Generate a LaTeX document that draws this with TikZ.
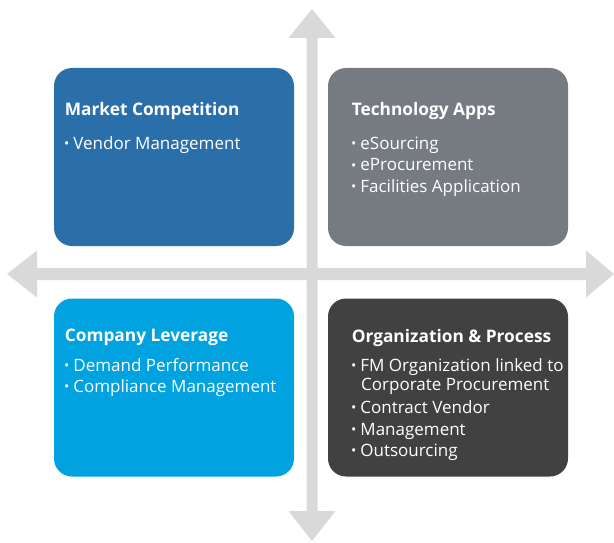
\documentclass[tikz,border=0pt]{standalone}
\usepackage{fontspec}
\setmainfont{Open Sans}
\definecolor{marketblue}{HTML}{2A6FAA}
\definecolor{techgray}{HTML}{767B81}
\definecolor{leverageblue}{HTML}{00A2DF}
\definecolor{orgdark}{HTML}{414141}
\definecolor{axisgray}{HTML}{D9D9D9}
\newcommand\dotmark{\makebox[8.6pt][l]{\hspace*{-0.8pt}\raisebox{0.6pt}{\fontsize{14}{14}\selectfont •}}}
\tikzset{
  quad/.style={rounded corners=18pt, minimum width=240pt, minimum height=178pt, inner sep=0pt},
  quadtitle/.style={anchor=base west, inner sep=0pt, text=white, font=\fontsize{17.3}{20}\selectfont\bfseries},
  quaditem/.style={anchor=base west, inner sep=0pt, text=white, font=\fontsize{17}{20}\selectfont},
  axis/.style={fill=axisgray}
}
\begin{document}
\begin{tikzpicture}[x=1pt,y=-1pt]
\useasboundingbox (0,0) rectangle (614,543);

% the two crossing double-headed axes
\fill[axis] (306.5,38) -- (288.5,38) -- (312,9) -- (335.5,38) -- (317.5,38)
  -- (317.5,511) -- (335.5,511) -- (312,541) -- (288.5,511) -- (306.5,511) -- cycle;
\fill[axis] (37,268) -- (37,250.5) -- (7,274) -- (37,297.5) -- (37,280)
  -- (586,280) -- (586,297.5) -- (614,274) -- (586,250.5) -- (586,268) -- cycle;

% quadrant boxes
\node[quad, fill=marketblue]   (mc) at (174,157) {};
\node[quad, fill=techgray]     (ta) at (448,157) {};
\node[quad, fill=leverageblue] (cl) at (174,387.5) {};
\node[quad, fill=orgdark]      (op) at (448,387.5) {};

% Market Competition
\node[quadtitle] (mct) at (64.6,116) {Market Competition};
\node[quaditem] (mc1) at (64.6,149.5) {\dotmark Vendor Management};

% Technology Apps
\node[quadtitle] (tat) at (351.6,116) {Technology Apps};
\node[quaditem] (ta1) at (351.6,149.5) {\dotmark eSourcing};
\node[quaditem] (ta2) at (351.6,171) {\dotmark eProcurement};
\node[quaditem] (ta3) at (351.6,192.5) {\dotmark Facilities Application};

% Company Leverage
\node[quadtitle] (clt) at (64.6,341.5) {Company Leverage};
\node[quaditem] (cl1) at (64.6,371) {\dotmark Demand Performance};
\node[quaditem] (cl2) at (64.6,392) {\dotmark Compliance Management};

% Organization & Process
\node[quadtitle] (opt) at (351.6,342) {Organization \& Process};
\node[quaditem] (op1) at (351.6,371) {\dotmark FM Organization linked to};
\node[quaditem] (op1b) at (361,390.5) {Corporate Procurement};
\node[quaditem] (op2) at (351.6,413) {\dotmark Contract Vendor};
\node[quaditem] (op3) at (351.6,435) {\dotmark Management};
\node[quaditem] (op4) at (351.6,456.5) {\dotmark Outsourcing};
\end{tikzpicture}
\end{document}
